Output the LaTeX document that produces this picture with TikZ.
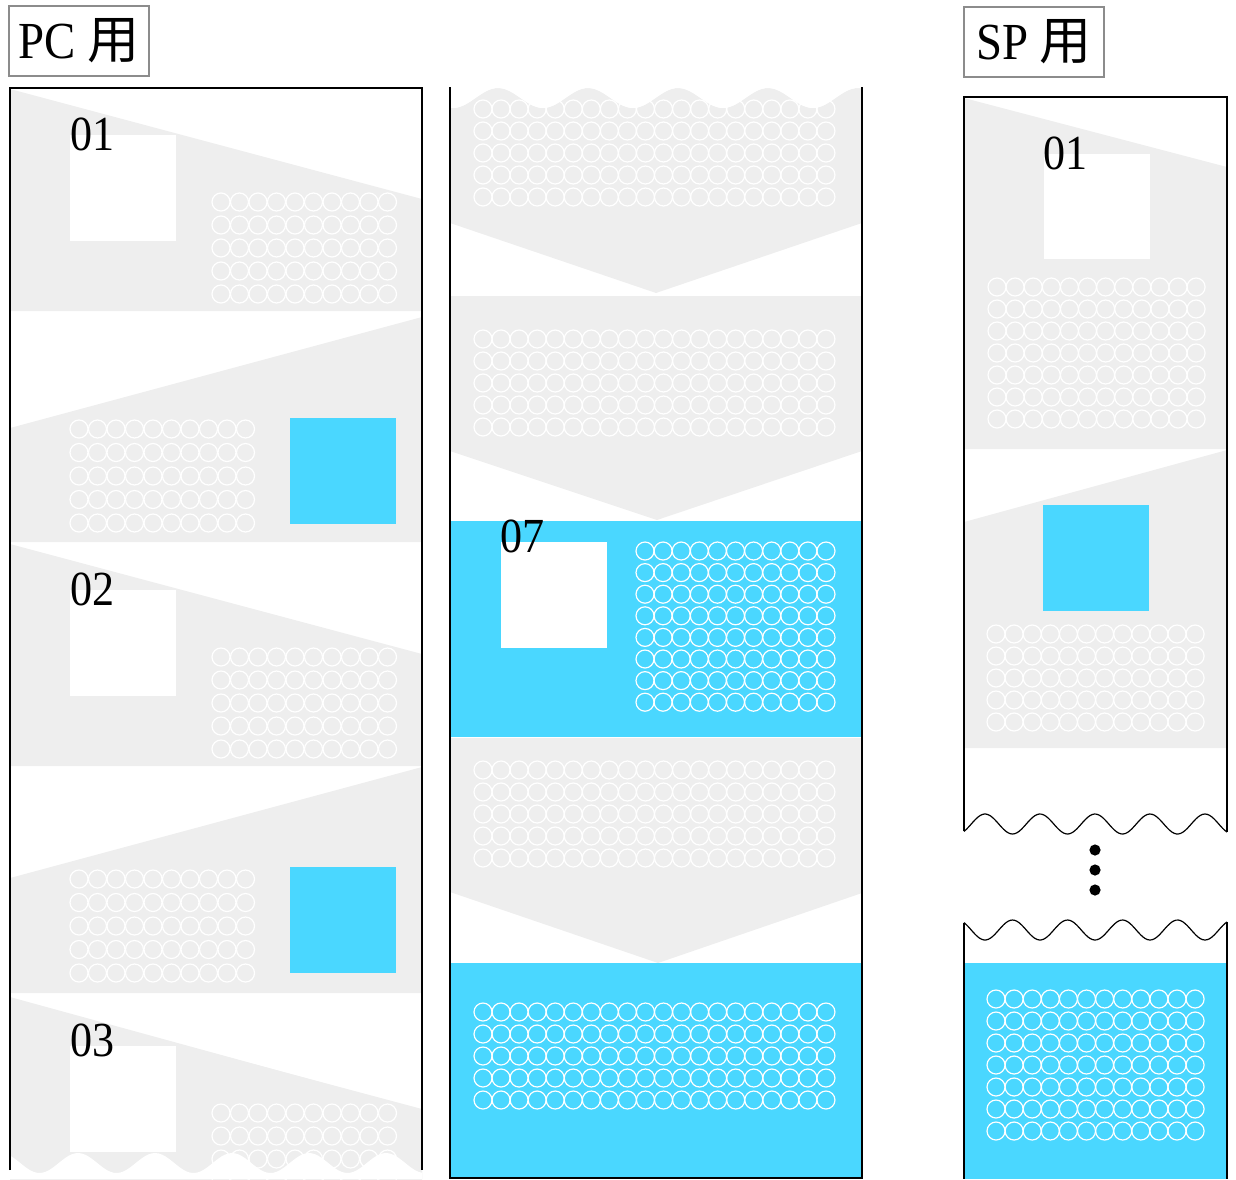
\documentclass[tikz,border=0pt]{standalone}
\usepackage{fontspec}
\setmainfont{Liberation Serif}[FakeStretch=0.9]
\newfontfamily\cjk{Noto Sans CJK JP}
\usepackage{xcolor}
\usepackage{tikz}
\usetikzlibrary{positioning}

\definecolor{panelgray}{HTML}{EEEEEE}
\definecolor{skyblue}{HTML}{4AD7FF}
\definecolor{tagline}{HTML}{8C8C8C}

%% grid of holes: x0, y0, cols, rows, dx, dy
\newcommand{\holegrid}[6]{%
  \foreach \i in {1,...,#3}{%
    \foreach \j in {1,...,#4}{%
      \draw[hole] ({#1+(\i-1)*#5},{#2+(\j-1)*#6}) circle[radius=4.5pt];
    }%
  }%
}

\begin{document}
\begin{tikzpicture}[
  x=0.5pt,y=-0.5pt,
  tag/.style={draw=tagline,line width=0.6pt,minimum width=70pt,
    minimum height=35pt,inner sep=0pt,font=\fontsize{26}{30}\selectfont},
  num/.style={anchor=base west,inner sep=0pt,font=\fontsize{24.5}{28}\selectfont},
  hole/.style={draw=white,line width=0.6pt},
  frame/.style={black,line width=0.7pt},
  wave/.style={black,line width=0.6pt}
]
\useasboundingbox (0,0) rectangle (1236,1179);

%% PC column
\foreach \k in {0,1,2}{
  \fill[panelgray] (10,{89+\k*455}) -- (422,{199+\k*455})
    -- (422,{311+\k*455}) -- (10,{311+\k*455}) -- cycle;
  \fill[white] (70,{135+\k*455}) rectangle (176,{241+\k*455});
  \holegrid{221}{202+\k*455}{10}{5}{18.5}{23}
}
\foreach \k in {0,1}{
  \fill[panelgray] (10,{428+\k*450}) -- (422,{317+\k*450})
    -- (422,{542+\k*451}) -- (10,{542+\k*451}) -- cycle;
  \fill[skyblue] (290,{418+\k*449}) rectangle (396,{524+\k*449});
  \holegrid{79}{429+\k*450}{10}{5}{18.5}{23.5}
}
\fill[panelgray] (10,997) -- (422,1110) -- (422,1179) -- (10,1179) -- cycle;
\fill[white] (70,1046) rectangle (176,1152);
\holegrid{221}{1113}{10}{3}{18.5}{23}
\fill[white] (10,1179) -- plot[domain=10:422,samples=120]
  (\x,{1163-10*cos(360/77*(\x-78))}) -- (422,1179) -- cycle;
\draw[frame] (10,1170) -- (10,88) -- (422,88) -- (422,1170);
\node[num] (pc01) at (70,150) {01};
\node[num] (pc02) at (70,605) {02};
\node[num] (pc03) at (70,1056) {03};
\node[tag] (pctag) at (79,41) {PC {\cjk 用}};

%% middle column
\fill[panelgray] plot[domain=450:862,samples=120]
  (\x,{98-10*cos(4*(\x-498))}) -- (862,223) -- (656,293) -- (450,223) -- cycle;
\holegrid{483}{109}{20}{5}{18.05}{22}
\fill[white] plot[domain=450:862,samples=120]
  (\x,{98-10*cos(4*(\x-498))}) -- (862,87) -- (450,87) -- cycle;
\fill[panelgray] (450,296) -- (862,296) -- (862,451) -- (657,520) -- (450,451) -- cycle;
\holegrid{483}{339}{20}{5}{18.05}{22}
\fill[skyblue] (450,521) rectangle (862,737);
\fill[white] (501,542) rectangle (607,648);
\holegrid{645}{551}{11}{8}{18.1}{21.6}
\fill[panelgray] (450,738) -- (862,738) -- (862,893) -- (658,963) -- (450,892) -- cycle;
\holegrid{483}{770}{20}{5}{18.05}{22}
\fill[skyblue] (450,963) rectangle (862,1178);
\holegrid{483}{1012}{20}{5}{18.05}{22}
\draw[frame] (450,87) -- (450,1178) -- (862,1178) -- (862,87);
\node[num] (mid07) at (500,552) {07};

%% SP column
\fill[panelgray] (964,98) -- (1227,167) -- (1227,449) -- (964,449) -- cycle;
\fill[white] (1044,154) rectangle (1150,259);
\holegrid{997}{287}{12}{7}{18.1}{22}
\fill[panelgray] (964,522) -- (1227,450) -- (1226,748) -- (964,748) -- cycle;
\fill[skyblue] (1043,505) rectangle (1149,611);
\holegrid{996}{634}{12}{5}{18.1}{22}
\draw[frame] (964,831) -- (964,97) -- (1227,97) -- (1227,832);
\draw[wave] plot[domain=964:1227,samples=120]
  (\x,{824-10*cos(360/55*(\x-985))});
\foreach \d [count=\n] in {850,870,890}
  \fill (1095,\d) circle[radius=2.8pt] node (dot\n) {};
\draw[wave] plot[domain=964:1227,samples=120]
  (\x,{930+10*cos(360/55*(\x-985))});
\fill[skyblue] (963,963) rectangle (1227,1179);
\holegrid{996}{999}{12}{7}{18.1}{22}
\draw[frame] (964,923) -- (964,1179);
\draw[frame] (1227,922) -- (1227,1179);
\node[num] (sp01) at (1043,169) {01};
\node[tag] (sptag) at (1034,42) {SP {\cjk 用}};
\end{tikzpicture}
\end{document}
